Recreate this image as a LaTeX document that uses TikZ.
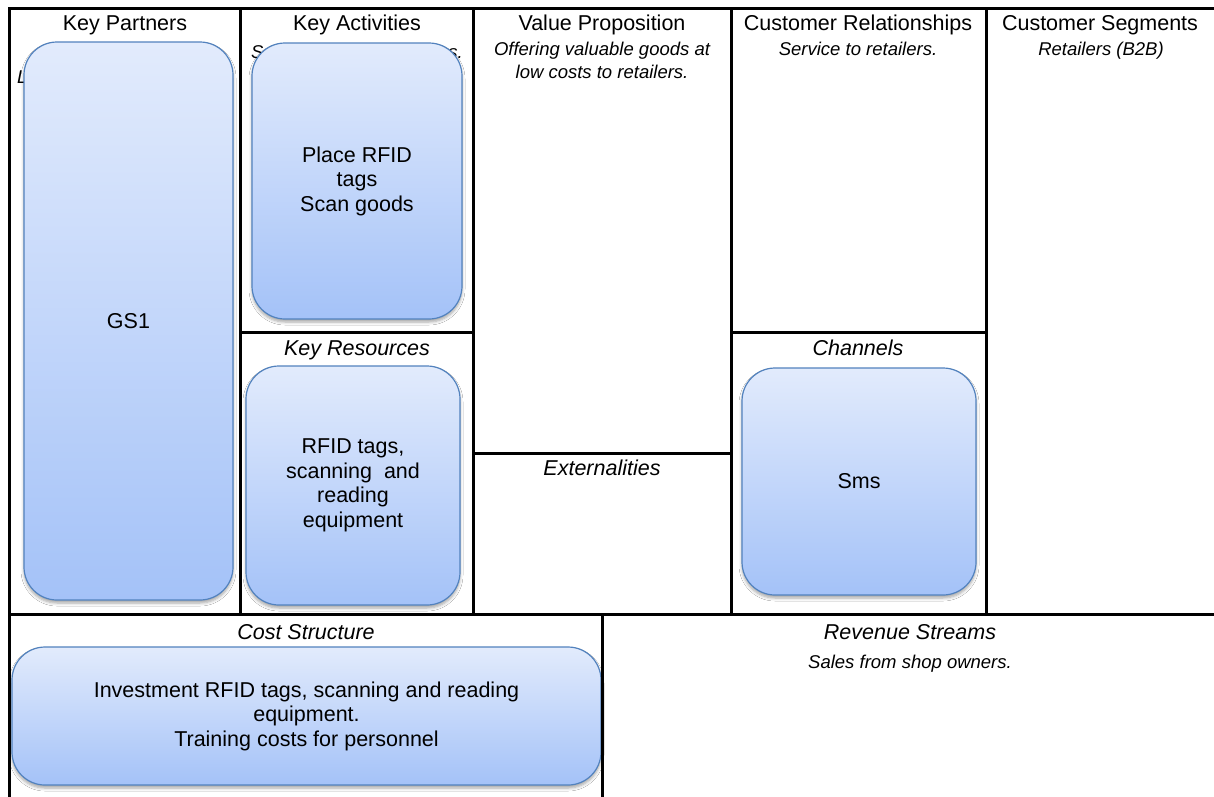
\documentclass[tikz,border=0pt]{standalone}
\usepackage{fontspec}
\setmainfont{Liberation Sans}
\usetikzlibrary{shadows.blur}
\definecolor{cardtop}{HTML}{E2EBFC}
\definecolor{cardbottom}{HTML}{A4C2F8}
\definecolor{cardline}{HTML}{5282BE}

\begin{document}
\begin{tikzpicture}[x=1pt,y=-1pt,
  gridline/.style={line width=3pt, line cap=rect},
  title/.style={font=\fontsize{21.5}{26}\selectfont, anchor=base, inner sep=0pt},
  head/.style={font=\fontsize{21.5}{26}\selectfont\itshape, anchor=base, inner sep=0pt},
  sub/.style={font=\fontsize{18.5}{23}\selectfont\itshape, anchor=base, inner sep=0pt},
  card/.style={rectangle, rounded corners=33pt, draw=cardline, line width=1.2pt,
    top color=cardtop, bottom color=cardbottom, inner sep=0pt, align=center,
    font=\fontsize{21.5}{24.5}\selectfont,
    blur shadow={shadow xshift=0pt, shadow yshift=-3pt, shadow opacity=35,
      shadow blur steps=5, shadow blur radius=3pt}},
]
\useasboundingbox (0,0) rectangle (1214,796);
\fill[white] (0,0) rectangle (1214,796);

% text partly hidden behind the cards
\node[sub, anchor=base west] (kp-note) at (17,83) {L};
\node[sub, anchor=base west] (ka-note-a) at (251,58) {S};
\node[sub, anchor=base east] (ka-note-b) at (463,58) {s.};

% cards
\node[card, minimum width=209pt, minimum height=558pt] (gs1) at (128.5,321) {GS1};
\node[card, minimum width=210pt, minimum height=276pt] (act) at (357,181)
  {Place RFID\\tags\\Scan goods};
\node[card, minimum width=214pt, minimum height=239pt] (res) at (353,485.5)
  {RFID tags,\\scanning\ \ and\\reading\\equipment};
\node[card, minimum width=234pt, minimum height=227pt] (sms) at (859,481.5) {Sms};
\node[card, minimum width=589pt, minimum height=138pt] (cost) at (306.5,716)
  {Investment RFID tags, scanning and reading\\equipment.\\Training costs for personnel};

% canvas grid
\draw[gridline] (9,8) -- (1214,8);
\draw[gridline] (9,8) -- (9,796);
\draw[gridline] (240,8) -- (240,614.5);
\draw[gridline] (473.5,8) -- (473.5,614.5);
\draw[gridline] (731,8) -- (731,614.5);
\draw[gridline] (986,8) -- (986,614.5);
\draw[gridline] (240,332) -- (473.5,332);
\draw[gridline] (473.5,453.5) -- (731,453.5);
\draw[gridline] (731,332) -- (986,332);
\draw[gridline] (9,614.5) -- (1214,614.5);
\draw[gridline] (602.5,614.5) -- (602.5,796);

% block titles
\node[title] (t-kp) at (125,30) {Key Partners};
\node[title] (t-ka) at (357,30) {Key Activities};
\node[title] (t-vp) at (602,30) {Value Proposition};
\node[title] (t-cr) at (858,30) {Customer Relationships};
\node[title] (t-cs) at (1100,30) {Customer Segments};

\node[head] (t-kr) at (357,355) {Key Resources};
\node[head] (t-ch) at (858,355) {Channels};
\node[head] (t-ex) at (602,475) {Externalities};
\node[head] (t-cost) at (306,639) {Cost Structure};
\node[head] (t-rev) at (910,639) {Revenue Streams};

% block notes
\node[sub] (n-vp1) at (602,55) {Offering valuable goods at};
\node[sub] (n-vp2) at (602,78) {low costs to retailers.};
\node[sub] (n-cr) at (858,55) {Service to retailers.};
\node[sub] (n-cs) at (1101,55) {Retailers (B2B)};
\node[sub] (n-rev) at (910,668) {Sales from shop owners.};
\end{tikzpicture}
\end{document}
